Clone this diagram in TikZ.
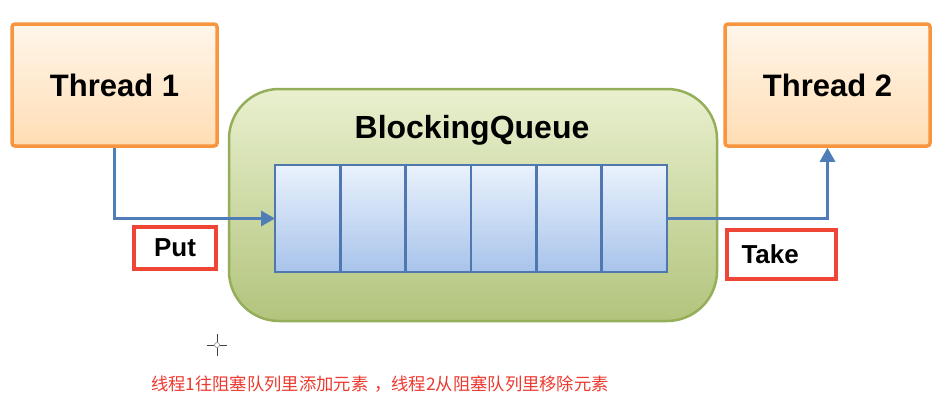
\documentclass[tikz,border=0pt]{standalone}
\usepackage{fontspec}
\setmainfont{Liberation Sans}
\newfontfamily\cjk{Noto Sans CJK SC}
\usetikzlibrary{arrows.meta}
\definecolor{orangeb}{HTML}{F7963F}
\definecolor{orangetop}{HTML}{FFF6EA}
\definecolor{orangebot}{HTML}{FFDDB4}
\definecolor{greenb}{HTML}{95AE5A}
\definecolor{greentop}{HTML}{E9F0CF}
\definecolor{greenbot}{HTML}{B2C47C}
\definecolor{blueb}{HTML}{4F78B0}
\definecolor{bluetop}{HTML}{EAF2FD}
\definecolor{bluebot}{HTML}{A8C3EA}
\definecolor{arrowc}{HTML}{4F7DB8}
\definecolor{redb}{HTML}{EE4537}
\definecolor{redtext}{HTML}{EC3A30}
\tikzset{
  threadbox/.style={draw=orangeb, line width=3.5pt, rounded corners=3pt,
    top color=orangetop, bottom color=orangebot, minimum width=205pt,
    minimum height=122pt, inner sep=0pt,
    font=\fontsize{31}{36}\selectfont\bfseries},
  queuebox/.style={draw=greenb, line width=2.5pt, rounded corners=50pt,
    top color=greentop, bottom color=greenbot, minimum width=488pt,
    minimum height=232pt, inner sep=0pt},
  cellbox/.style={draw=blueb, line width=2.5pt, top color=bluetop,
    bottom color=bluebot, minimum width=65.33pt, minimum height=107pt,
    inner sep=0pt, outer sep=0pt},
  flow/.style={draw=arrowc, line width=3pt,
    -{Triangle[length=14pt,width=15pt]}},
  labelbox/.style={draw=redb, line width=4pt, fill=white, inner sep=0pt,
    font=\fontsize{26}{30}\selectfont\bfseries},
  titletext/.style={font=\fontsize{32}{38}\selectfont\bfseries},
}
\begin{document}
\begin{tikzpicture}[x=1pt,y=-1pt]
\useasboundingbox (0,0) rectangle (948,416);
\fill[white] (0,0) rectangle (948,416);
\node[threadbox] (t1) at (114.5,85) {Thread 1};
\node[threadbox] (t2) at (827.5,85) {Thread 2};
\node[queuebox] (bq) at (473,205) {};
\node[titletext] (title) at (472,130) {BlockingQueue};
\node[cellbox] (c1) at (307.7,218.5) {};
\foreach \i [remember=\i as \j (initially 1)] in {2,...,6} {
  \node[cellbox, anchor=west] (c\i) at (c\j.east) {};
}
\draw[flow] (t1.south) |- (c1.west);
\draw[flow] (c6.east) -| (t2.south);
\node[labelbox, minimum width=82pt, minimum height=42pt] (put) at (175,248) {Put};
\node[labelbox, minimum width=109pt, minimum height=49pt, text width=80pt, align=left] (take) at (781.5,254.5) {Take};
\node[text=redtext, font=\cjk\fontsize{17.3}{20}\selectfont] (note) at (380,384) {线程1往阻塞队列里添加元素\kern6pt，线程2从阻塞队列里移除元素};
\coordinate (cur) at (217,345);
\draw[black!75, line width=0.9pt] ([xshift=-10pt]cur) -- ([xshift=-3pt]cur)
  ([xshift=3pt]cur) -- ([xshift=10pt]cur)
  ([yshift=-11pt]cur) -- ([yshift=-3pt]cur)
  ([yshift=3pt]cur) -- ([yshift=11pt]cur);
\draw[black!50, line width=0.6pt] (cur) circle (2.5pt);
\end{tikzpicture}
\end{document}
